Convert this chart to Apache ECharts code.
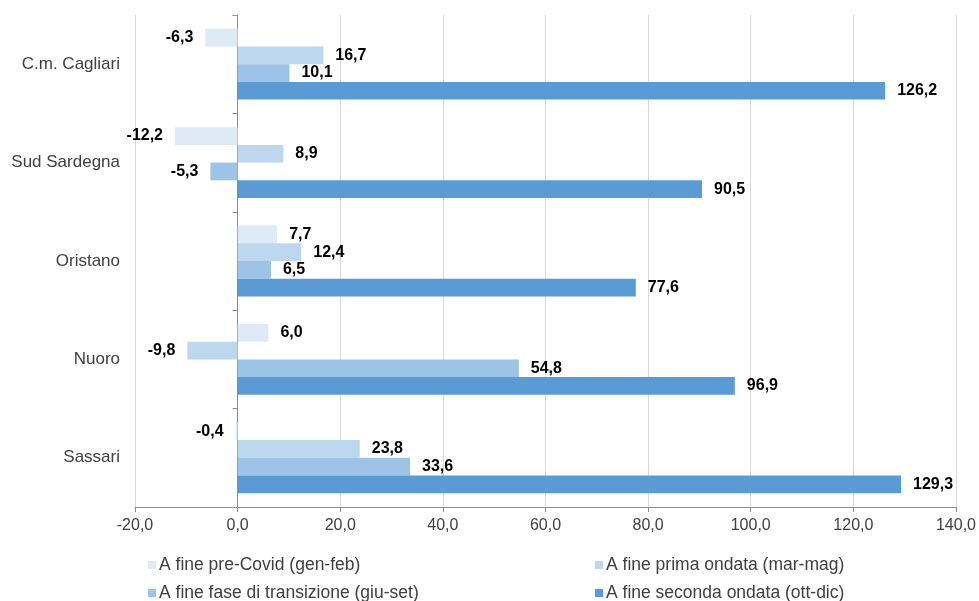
<!DOCTYPE html>
<html><head><meta charset="utf-8">
<script src="https://cdn.jsdelivr.net/npm/echarts@6/dist/echarts.min.js"></script>
<style>html,body{margin:0;padding:0;background:#fff}#c{width:979px;height:601px}</style>
</head><body><div id="c"></div>
<script>
const categories = ['C.m. Cagliari', 'Sud Sardegna', 'Oristano', 'Nuoro', 'Sassari'];
const seriesNames = ['A fine pre-Covid (gen-feb)', 'A fine prima ondata (mar-mag)', 'A fine fase di transizione (giu-set)', 'A fine seconda ondata (ott-dic)'];
const preCovid = [-6.3, -12.2, 7.7, 6.0, -0.4];
const primaOndata = [16.7, 8.9, 12.4, -9.8, 23.8];
const transizione = [10.1, -5.3, 6.5, 54.8, 33.6];
const secondaOndata = [126.2, 90.5, 77.6, 96.9, 129.3];
const colors = ['#DEEBF7', '#BDD7EE', '#9DC3E6', '#5B9BD5'];
const FONT = 'Liberation Sans, Arial, sans-serif';
const fmt = v => v.toFixed(1).replace('.', ',');
const values = [preCovid, primaOndata, transizione, secondaOndata];

const series = values.map((arr, i) => ({
  name: seriesNames[i],
  type: 'bar',
  yAxisIndex: 0,
  barGap: '0%',
  barCategoryGap: '28%',
  itemStyle: {color: colors[i]},
  data: arr.map(v => ({
    value: v,
    label: {position: v < 0 ? 'left' : 'right'}
  })),
  label: {
    show: true, distance: 12, color: '#000', fontWeight: 'bold', fontSize: 16, fontFamily: FONT,
    formatter: p => fmt(p.value)
  }
}));

const legendPos = [[148, 556], [595, 556], [148, 584], [595, 584]];
const legends = seriesNames.map((n, i) => ({
  data: [n], left: legendPos[i][0], top: legendPos[i][1],
  icon: 'rect', itemWidth: 8, itemHeight: 8, itemGap: 0,
  textStyle: {color: '#404040', fontSize: 17.5, lineHeight: 18, fontFamily: FONT, padding: [0, 0, 0, -2]},
  selectedMode: false, padding: 0
}));

const chart = echarts.init(document.getElementById('c'), null, {renderer: 'canvas'});
chart.setOption({
  animation: false,
  color: colors,
  legend: legends,
  grid: {left: 135, right: 23, top: 15, bottom: 94, containLabel: false},
  xAxis: {
    type: 'value', min: -20, max: 140, interval: 20,
    axisLine: {show: true, onZero: false, lineStyle: {color: '#8C8C8C'}},
    axisTick: {show: true, length: 5, lineStyle: {color: '#8C8C8C'}},
    axisLabel: {color: '#404040', fontSize: 16, fontFamily: FONT, margin: 11, formatter: v => fmt(v)},
    splitLine: {show: true, lineStyle: {color: '#D9D9D9'}}
  },
  yAxis: [{
    type: 'category', data: categories, inverse: true,
    axisLine: {show: false, onZero: false},
    axisTick: {show: false},
    axisLabel: {color: '#404040', fontSize: 17, fontFamily: FONT, margin: 15}
  }, {
    type: 'category', data: categories, inverse: true, position: 'left',
    axisLine: {show: true, onZero: true, lineStyle: {color: '#8C8C8C'}},
    axisTick: {show: true, length: 5, lineStyle: {color: '#8C8C8C'}},
    axisLabel: {show: false}
  }],
  series: series
});
</script></body></html>
